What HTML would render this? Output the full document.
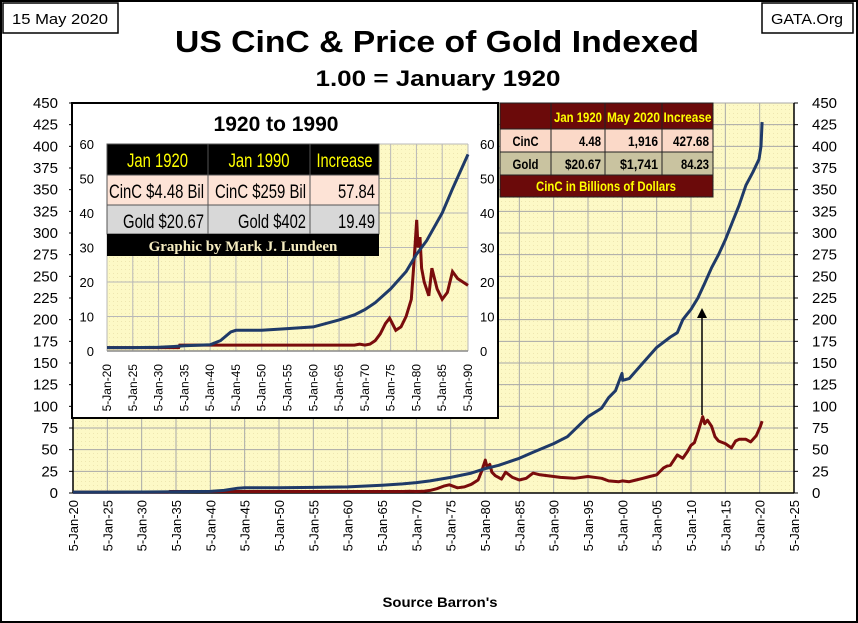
<!DOCTYPE html>
<html><head><meta charset="utf-8"><style>
html,body{margin:0;padding:0;background:#fff}
svg{display:block;font-family:"Liberation Sans",sans-serif}
</style></head><body>
<svg id="c" width="858" height="623" viewBox="0 0 858 623">
<defs><pattern id="dots" width="4" height="4" patternUnits="userSpaceOnUse"><rect width="4" height="4" fill="#fdf9c6"/><rect x="1" y="1" width="1" height="1" fill="#eee6b0"/></pattern></defs>
<rect x="1" y="1" width="856" height="621" fill="#fff" stroke="#000" stroke-width="2"/>
<rect x="3" y="3" width="115" height="30" fill="#fff" stroke="#000" stroke-width="1.5"/>
<text x="60" y="24" font-size="15" text-anchor="middle" textLength="96" lengthAdjust="spacingAndGlyphs">15 May 2020</text>
<rect x="762" y="3" width="91" height="30" fill="#fff" stroke="#000" stroke-width="1.5"/>
<text x="807" y="24" font-size="15" text-anchor="middle" textLength="72" lengthAdjust="spacingAndGlyphs">GATA.Org</text>
<text x="437" y="52" font-size="31" font-weight="bold" text-anchor="middle" textLength="524" lengthAdjust="spacingAndGlyphs">US CinC &amp; Price of Gold Indexed</text>
<text x="438" y="86" font-size="22" font-weight="bold" text-anchor="middle" textLength="245" lengthAdjust="spacingAndGlyphs">1.00 = January 1920</text>
<text x="440" y="607" font-size="14" font-weight="bold" text-anchor="middle" textLength="115" lengthAdjust="spacingAndGlyphs">Source Barron's</text>
<g id="main"></g>
<g id="inset"></g>
<g id="rtable"></g>
</svg>
<script>
// data (index, 1.00 = Jan 1920)
const cincYears=[1920,1925,1930,1933,1935,1940,1942,1944,1945,1948,1950,1955,1960,1965,1968,1970,1972,1975,1978,1980,1982,1985,1987,1990,1992,1995,1997,1998,1999,1999.95,2000.05,2001,2003,2005,2007,2008,2008.8,2009.3,2010,2011,2012,2013,2014,2015,2016,2017,2018,2019,2019.9,2020.2,2020.35];
const cincVals=[1,1,1.1,1.3,1.5,1.8,3,5.5,6,6,6,6.5,7,9,10.5,12,14,18,23,28,32,40,47,57,65,88,98,110,118,138,130,132,150,168,180,185,200,205,212,225,242,260,275,292,312,332,355,370,385,400,428];
const goldYears=[1920,1933.9,1934.1,1968,1969,1970,1971,1972,1973,1974,1974.8,1976,1977,1978,1979,1979.5,1980.05,1980.3,1980.7,1981,1981.5,1982.4,1983,1984,1985,1986,1987,1988,1990,1991,1993,1995,1997,1998,1999.5,2000,2001,2002,2003,2004,2005,2006,2006.5,2007,2008,2008.8,2009.5,2010,2010.5,2011,2011.7,2012,2012.4,2013,2013.5,2014,2015,2015.9,2016.5,2017,2018,2018.7,2019.5,2020.1,2020.35];
const goldVals=[1,1,1.7,1.7,2,1.7,2,3,5,8,9.5,6,7,10,15,25,38,30,33,24,20,16,24,18,15,17,23,21,19,18,17,19,17,14,13,14,13,15,17,19,21,29,31,32,44,40,48,55,58,70,88,80,84,77,65,60,57,52,60,62,62,59,66,77,83];
const mainTicksY=[0,25,50,75,100,125,150,175,200,225,250,275,300,325,350,375,400,425,450];
const mainTicksX=[1920,1925,1930,1935,1940,1945,1950,1955,1960,1965,1970,1975,1980,1985,1990,1995,2000,2005,2010,2015,2020,2025];
const insetTicksY=[0,10,20,30,40,50,60];
const insetTicksX=[1920,1925,1930,1935,1940,1945,1950,1955,1960,1965,1970,1975,1980,1985,1990];
const NS='http://www.w3.org/2000/svg';
function mk(p,tag,at,txt){const e=document.createElementNS(NS,tag);for(const k in at)e.setAttribute(k,at[k]);if(txt!==undefined)e.textContent=txt;p.appendChild(e);return e;}
function lab(y){return '5-Jan-'+String(y%100).padStart(2,'0');}

// main chart
const M=document.getElementById('main');
const L=73,R=794,T=103,B=493;
const mx=y=>L+(y-1920)/105*(R-L);
const my=v=>B-v/450*(B-T);
let r=mk(M,'rect',{x:L,y:T,width:R-L,height:B-T,fill:'url(#dots)'});


mainTicksY.forEach(v=>{
 let g=mk(M,'line',{x1:L,x2:R,y1:my(v),y2:my(v),stroke:'#a8a8a8','stroke-width':1});
 
 
 let t=mk(M,'text',{x:58,y:my(v)+5,'font-size':15,'text-anchor':'end'},String(v));
 
 
 let t2=mk(M,'text',{x:812,y:my(v)+5,'font-size':15},String(v));
 
 
 mk(M,'line',{x1:L-4,x2:L,y1:my(v),y2:my(v),stroke:'#000'});
 mk(M,'line',{x1:R,x2:R+4,y1:my(v),y2:my(v),stroke:'#000'});
});
mainTicksX.forEach(y=>{
 let g=mk(M,'line',{x1:mx(y),x2:mx(y),y1:T,y2:B,stroke:'#a8a8a8'});
 
 
 let t=mk(M,'text',{x:0,y:0,'font-size':13,'text-anchor':'end',transform:`translate(${mx(y)+5},500) rotate(-90)`},lab(y));
 
 
});
mk(M,'line',{x1:L,x2:R,y1:B,y2:B,stroke:'#000','stroke-width':1.5});
mk(M,'line',{x1:L,x2:L,y1:T,y2:B,stroke:'#000','stroke-width':1.5});
mk(M,'line',{x1:R,x2:R,y1:T,y2:B,stroke:'#000','stroke-width':1.5});
function path(xs,vs,fx,fy,maxY){let d='';xs.forEach((x,i)=>{if(x<=maxY)d+=(d?'L':'M')+fx(x).toFixed(1)+','+fy(vs[i]).toFixed(1);});return d;}
let gp=mk(M,'path',{d:path(goldYears,goldVals,mx,my,3000),fill:'none',stroke:'#7a0c0c','stroke-width':3,'stroke-linejoin':'round'});


let cp=mk(M,'path',{d:path(cincYears,cincVals,mx,my,3000),fill:'none',stroke:'#1f3a68','stroke-width':3,'stroke-linejoin':'round'});


let ar=mk(M,'line',{x1:702,y1:415,x2:702,y2:314,stroke:'#000','stroke-width':1.5});


mk(M,'path',{d:'M697,318 L702,308 L707,318 Z',fill:'#000'});

// inset
const I=document.getElementById('inset');
let ib=mk(I,'rect',{x:72,y:103,width:426,height:315,fill:'#fff',stroke:'#000','stroke-width':2});


let it=mk(I,'text',{x:276,y:131,'font-size':21,'font-weight':'bold','text-anchor':'middle'},'1920 to 1990');


const iL=107,iR=468,iT=144,iB=351;
const ix=y=>iL+(y-1920)/70*(iR-iL);
const iy=v=>iB-v/60*(iB-iT);
mk(I,'rect',{x:iL,y:iT,width:iR-iL,height:iB-iT,fill:'url(#dots)'});
insetTicksY.forEach(v=>{
 mk(I,'line',{x1:iL,x2:iR,y1:iy(v),y2:iy(v),stroke:'#b8b8b8'});
 let t=mk(I,'text',{x:94,y:iy(v)+5,'font-size':13,'text-anchor':'end'},String(v));
 
 
 let t2=mk(I,'text',{x:480,y:iy(v)+5,'font-size':13},String(v));
 
 
});
insetTicksX.forEach(y=>{
 mk(I,'line',{x1:ix(y),x2:ix(y),y1:iT,y2:iB,stroke:'#b8b8b8'});
 let t=mk(I,'text',{x:0,y:0,'font-size':12,'text-anchor':'end',transform:`translate(${ix(y)+4},364) rotate(-90)`},lab(y));
 
 
});
mk(I,'line',{x1:iL,x2:iR,y1:iB,y2:iB,stroke:'#888','stroke-width':1.5});
let igp=mk(I,'path',{d:path(goldYears,goldVals,ix,iy,1990),fill:'none',stroke:'#7a0c0c','stroke-width':3});


let icp=mk(I,'path',{d:path(cincYears,cincVals,ix,iy,1990),fill:'none',stroke:'#1f3a68','stroke-width':3});


// inset table
const cx=[107,208,310,379], ry=[144,175,205,234,256];
const rowFill=['#000','#fde3d6','#d8d8d8'];
const rowsTxt=[['Jan 1920','Jan 1990','Increase'],['CinC $4.48 Bil','CinC $259 Bil','57.84'],['Gold $20.67','Gold $402','19.49']];
const rowsW=[[61,61,56],[95,91,37],[81,68,37]];
for(let r2=0;r2<3;r2++)for(let c=0;c<3;c++){
 mk(I,'rect',{x:cx[c],y:ry[r2],width:cx[c+1]-cx[c],height:ry[r2+1]-ry[r2],fill:rowFill[r2],stroke:'#555'});
 const hdr=r2==0;
 let t=mk(I,'text',{x:hdr?(cx[c]+cx[c+1])/2:cx[c+1]-4,y:ry[r2]+23,'font-size':19,'text-anchor':hdr?'middle':'end',fill:hdr?'#ffff00':'#000',textLength:rowsW[r2][c],lengthAdjust:'spacingAndGlyphs'},rowsTxt[r2][c]);
 
 
}
mk(I,'rect',{x:107,y:234,width:272,height:22,fill:'#000'});
let cr=mk(I,'text',{x:243,y:251,'font-size':15,'font-weight':'bold','text-anchor':'middle',fill:'#f5ecc0','font-family':'Liberation Serif, serif'},'Graphic by Mark J. Lundeen');



// right table
const RT=document.getElementById('rtable');
const tx=[500,551,605,662,713], ty=[103,129,152,175,197];
const rtTxt=[['','Jan 1920','May 2020','Increase'],['CinC','4.48','1,916','427.68'],['Gold','$20.67','$1,741','84.23']];
const rtW=[[0,48,53,48],[26,22,30,36],[26,36,38,28]];
const rtFill=['#6b0a0a','#fbd9c8','#c9c3a0'];
for(let r2=0;r2<3;r2++)for(let c=0;c<4;c++){
 mk(RT,'rect',{x:tx[c],y:ty[r2],width:tx[c+1]-tx[c],height:ty[r2+1]-ty[r2],fill:rtFill[r2],stroke:'#222'});
 if(!rtTxt[r2][c])continue;
 const hdr=r2==0;
 let t=mk(RT,'text',{x:hdr||c==0?(tx[c]+tx[c+1])/2:tx[c+1]-4,y:ty[r2]+(hdr?19:17),'font-size':14,'font-weight':'bold','text-anchor':hdr||c==0?'middle':'end',fill:hdr?'#ffff00':'#000',textLength:rtW[r2][c],lengthAdjust:'spacingAndGlyphs'},rtTxt[r2][c]);
 
 
}
mk(RT,'rect',{x:500,y:175,width:213,height:22,fill:'#6b0a0a',stroke:'#222'});
let rf=mk(RT,'text',{x:606,y:191,'font-size':14,'font-weight':'bold','text-anchor':'middle',fill:'#ffff00',textLength:140,lengthAdjust:'spacingAndGlyphs'},'CinC in Billions of Dollars');


</script>
</body></html>
